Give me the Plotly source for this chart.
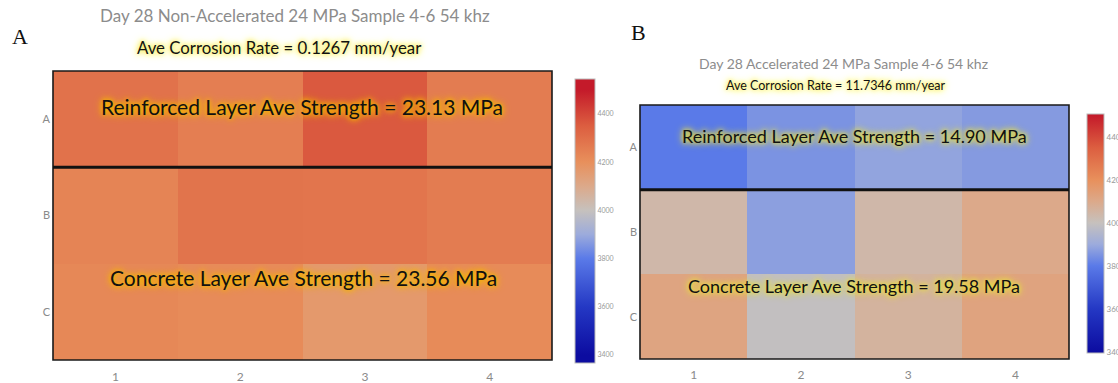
import plotly.graph_objects as go

# ---- data ----
rows = ["A", "B", "C"]
cols = ["1", "2", "3", "4"]

# Panel A: Day 28 Non-Accelerated (pulse-velocity-like values)
vals_a_rowA = [4290, 4255, 4360, 4260]
vals_a_rowB = [4235, 4285, 4280, 4260]
vals_a_rowC = [4225, 4215, 4165, 4215]

# Panel B: Day 28 Accelerated
vals_b_rowA = [3800, 3850, 3885, 3865]
vals_b_rowB = [4040, 3875, 4040, 4100]
vals_b_rowC = [4120, 3990, 4060, 4125]

title_a = "Day 28 Non-Accelerated 24 MPa Sample 4-6 54 khz"
rate_a = "Ave Corrosion Rate = 0.1267 mm/year"
reinf_a = "Reinforced Layer Ave Strength = 23.13 MPa"
conc_a = "Concrete Layer Ave Strength = 23.56 MPa"

title_b = "Day 28 Accelerated 24 MPa Sample 4-6 54 khz"
rate_b = "Ave Corrosion Rate = 11.7346 mm/year"
reinf_b = "Reinforced Layer Ave Strength = 14.90 MPa"
conc_b = "Concrete Layer Ave Strength = 19.58 MPa"

cbar_ticks = [3400, 3600, 3800, 4000, 4200, 4400]

# colour anchors (value -> colour)
scale_vals = [3400, 3600, 3800, 3900, 4000, 4100, 4200, 4350, 4500]
scale_cols = ["#0c0ca0", "#2438c4", "#5a7ae8", "#9cabdc", "#c6c1bd",
              "#dca98a", "#e8905c", "#dc5e40", "#c41a2a"]

W, H = 1118, 383


def make_scale(zmin, zmax):
    cs = []
    for v, c in zip(scale_vals, scale_cols):
        f = (v - zmin) / (zmax - zmin)
        f = min(max(f, 0.0), 1.0)
        cs.append([f, c])
    if cs[0][0] > 0:
        cs.insert(0, [0.0, cs[0][1]])
    if cs[-1][0] < 1:
        cs.append([1.0, cs[-1][1]])
    return cs


def px_x(x):
    return x / W


def px_y(y):
    return 1 - y / H


zA = (3367, 4545)
zB = (3395, 4506)

fig = go.Figure()

fig.add_trace(go.Heatmap(
    z=[vals_a_rowA, vals_a_rowB, vals_a_rowC], x=cols, y=rows,
    zmin=zA[0], zmax=zA[1], colorscale=make_scale(*zA),
    xaxis="x", yaxis="y", hoverinfo="skip",
    colorbar=dict(x=px_x(575), xanchor="left", thickness=20, thicknessmode="pixels",
                  len=(363 - 79) / H, lenmode="fraction", y=px_y((79 + 363) / 2), yanchor="middle",
                  tickvals=cbar_ticks, ticks="", outlinewidth=1, outlinecolor="#bbbbbb",
                  tickfont=dict(family="Lato", size=7, color="#999999"), xpad=0, ypad=0),
))

fig.add_trace(go.Heatmap(
    z=[vals_b_rowA, vals_b_rowB, vals_b_rowC], x=cols, y=rows,
    zmin=zB[0], zmax=zB[1], colorscale=make_scale(*zB),
    xaxis="x2", yaxis="y2", hoverinfo="skip",
    colorbar=dict(x=px_x(1087), xanchor="left", thickness=17, thicknessmode="pixels",
                  len=(353 - 114) / H, lenmode="fraction", y=px_y((114 + 353) / 2), yanchor="middle",
                  tickvals=cbar_ticks, ticks="", outlinewidth=1, outlinecolor="#bbbbbb",
                  tickfont=dict(family="Lato", size=8, color="#999999"), xpad=0, ypad=0),
))

axfont = dict(family="Lato", size=12, color="#8a8a8a")
fig.update_layout(
    width=W, height=H,
    margin=dict(l=0, r=0, t=0, b=0, autoexpand=False),
    paper_bgcolor="white", plot_bgcolor="white",
    xaxis=dict(domain=[px_x(53), px_x(552)], anchor="y", showgrid=False, zeroline=False,
               tickfont=axfont, ticks="", showline=False, ticklabelstandoff=8),
    yaxis=dict(domain=[px_y(360), px_y(71)], anchor="x", showgrid=False, zeroline=False,
               autorange="reversed", tickfont=dict(family="Lato", size=11, color="#8a8a8a"),
               ticks="", ticklabelstandoff=2),
    xaxis2=dict(domain=[px_x(640), px_x(1069)], anchor="y2", showgrid=False, zeroline=False,
                tickfont=axfont, ticks="", ticklabelstandoff=7),
    yaxis2=dict(domain=[px_y(359), px_y(105)], anchor="x2", showgrid=False, zeroline=False,
                autorange="reversed", tickfont=dict(family="Lato", size=11, color="#8a8a8a"),
                ticks="", ticklabelstandoff=2),
)

shapes = []
for xa, ya, lw in (("x", "y", 1.6), ("x2", "y2", 1.6)):
    shapes.append(dict(type="rect", xref=f"{xa} domain", yref=f"{ya} domain",
                       x0=0, x1=1, y0=0, y1=1, line=dict(color="#1a1a1a", width=lw)))
    shapes.append(dict(type="line", xref=f"{xa} domain", yref=ya,
                       x0=0, x1=1, y0=0.5, y1=0.5, line=dict(color="#111111", width=3)))
fig.update_layout(shapes=shapes)

glow_a = "0px 0px 4px #f5b000, 0px 0px 6px #f5b800, 0px 0px 9px #f5c000"
glow_b = "0px 0px 4px #e8e040, 0px 0px 6px #e8e040, 0px 0px 8px #e8e040"
glow_rate = "0px 0px 4px #f8f060, 0px 0px 6px #f8f060, 0px 0px 8px #f8f060"

ann = []


def add_text(text, x, y, size, color="#111111", family="Lato", shadow=None):
    f = dict(family=family, size=size, color=color)
    if shadow:
        f["shadow"] = shadow
    ann.append(dict(text=text, x=px_x(x), y=px_y(y), xref="paper", yref="paper",
                    xanchor="center", yanchor="middle", showarrow=False, font=f))


add_text("A", 20, 36, 22, family="Liberation Serif")
add_text("B", 638, 33, 22, family="Liberation Serif")

add_text(title_a, 295, 16, 17, color="#8c8c8c")
add_text(rate_a, 279, 47, 16.8, shadow=glow_rate)
add_text(reinf_a, 302, 106, 21, shadow=glow_a)
add_text(conc_a, 303, 277, 21, shadow=glow_a)

add_text(title_b, 844, 63, 14, color="#8c8c8c")
add_text(rate_b, 835, 85, 12.5, shadow=glow_rate)
add_text(reinf_b, 854, 136, 18, shadow=glow_b)
add_text(conc_b, 854, 286, 18, shadow=glow_b)

fig.update_layout(annotations=ann)

fig.write_html("out.html", config={"displayModeBar": False},
               post_script="document.body.style.margin='0';")
